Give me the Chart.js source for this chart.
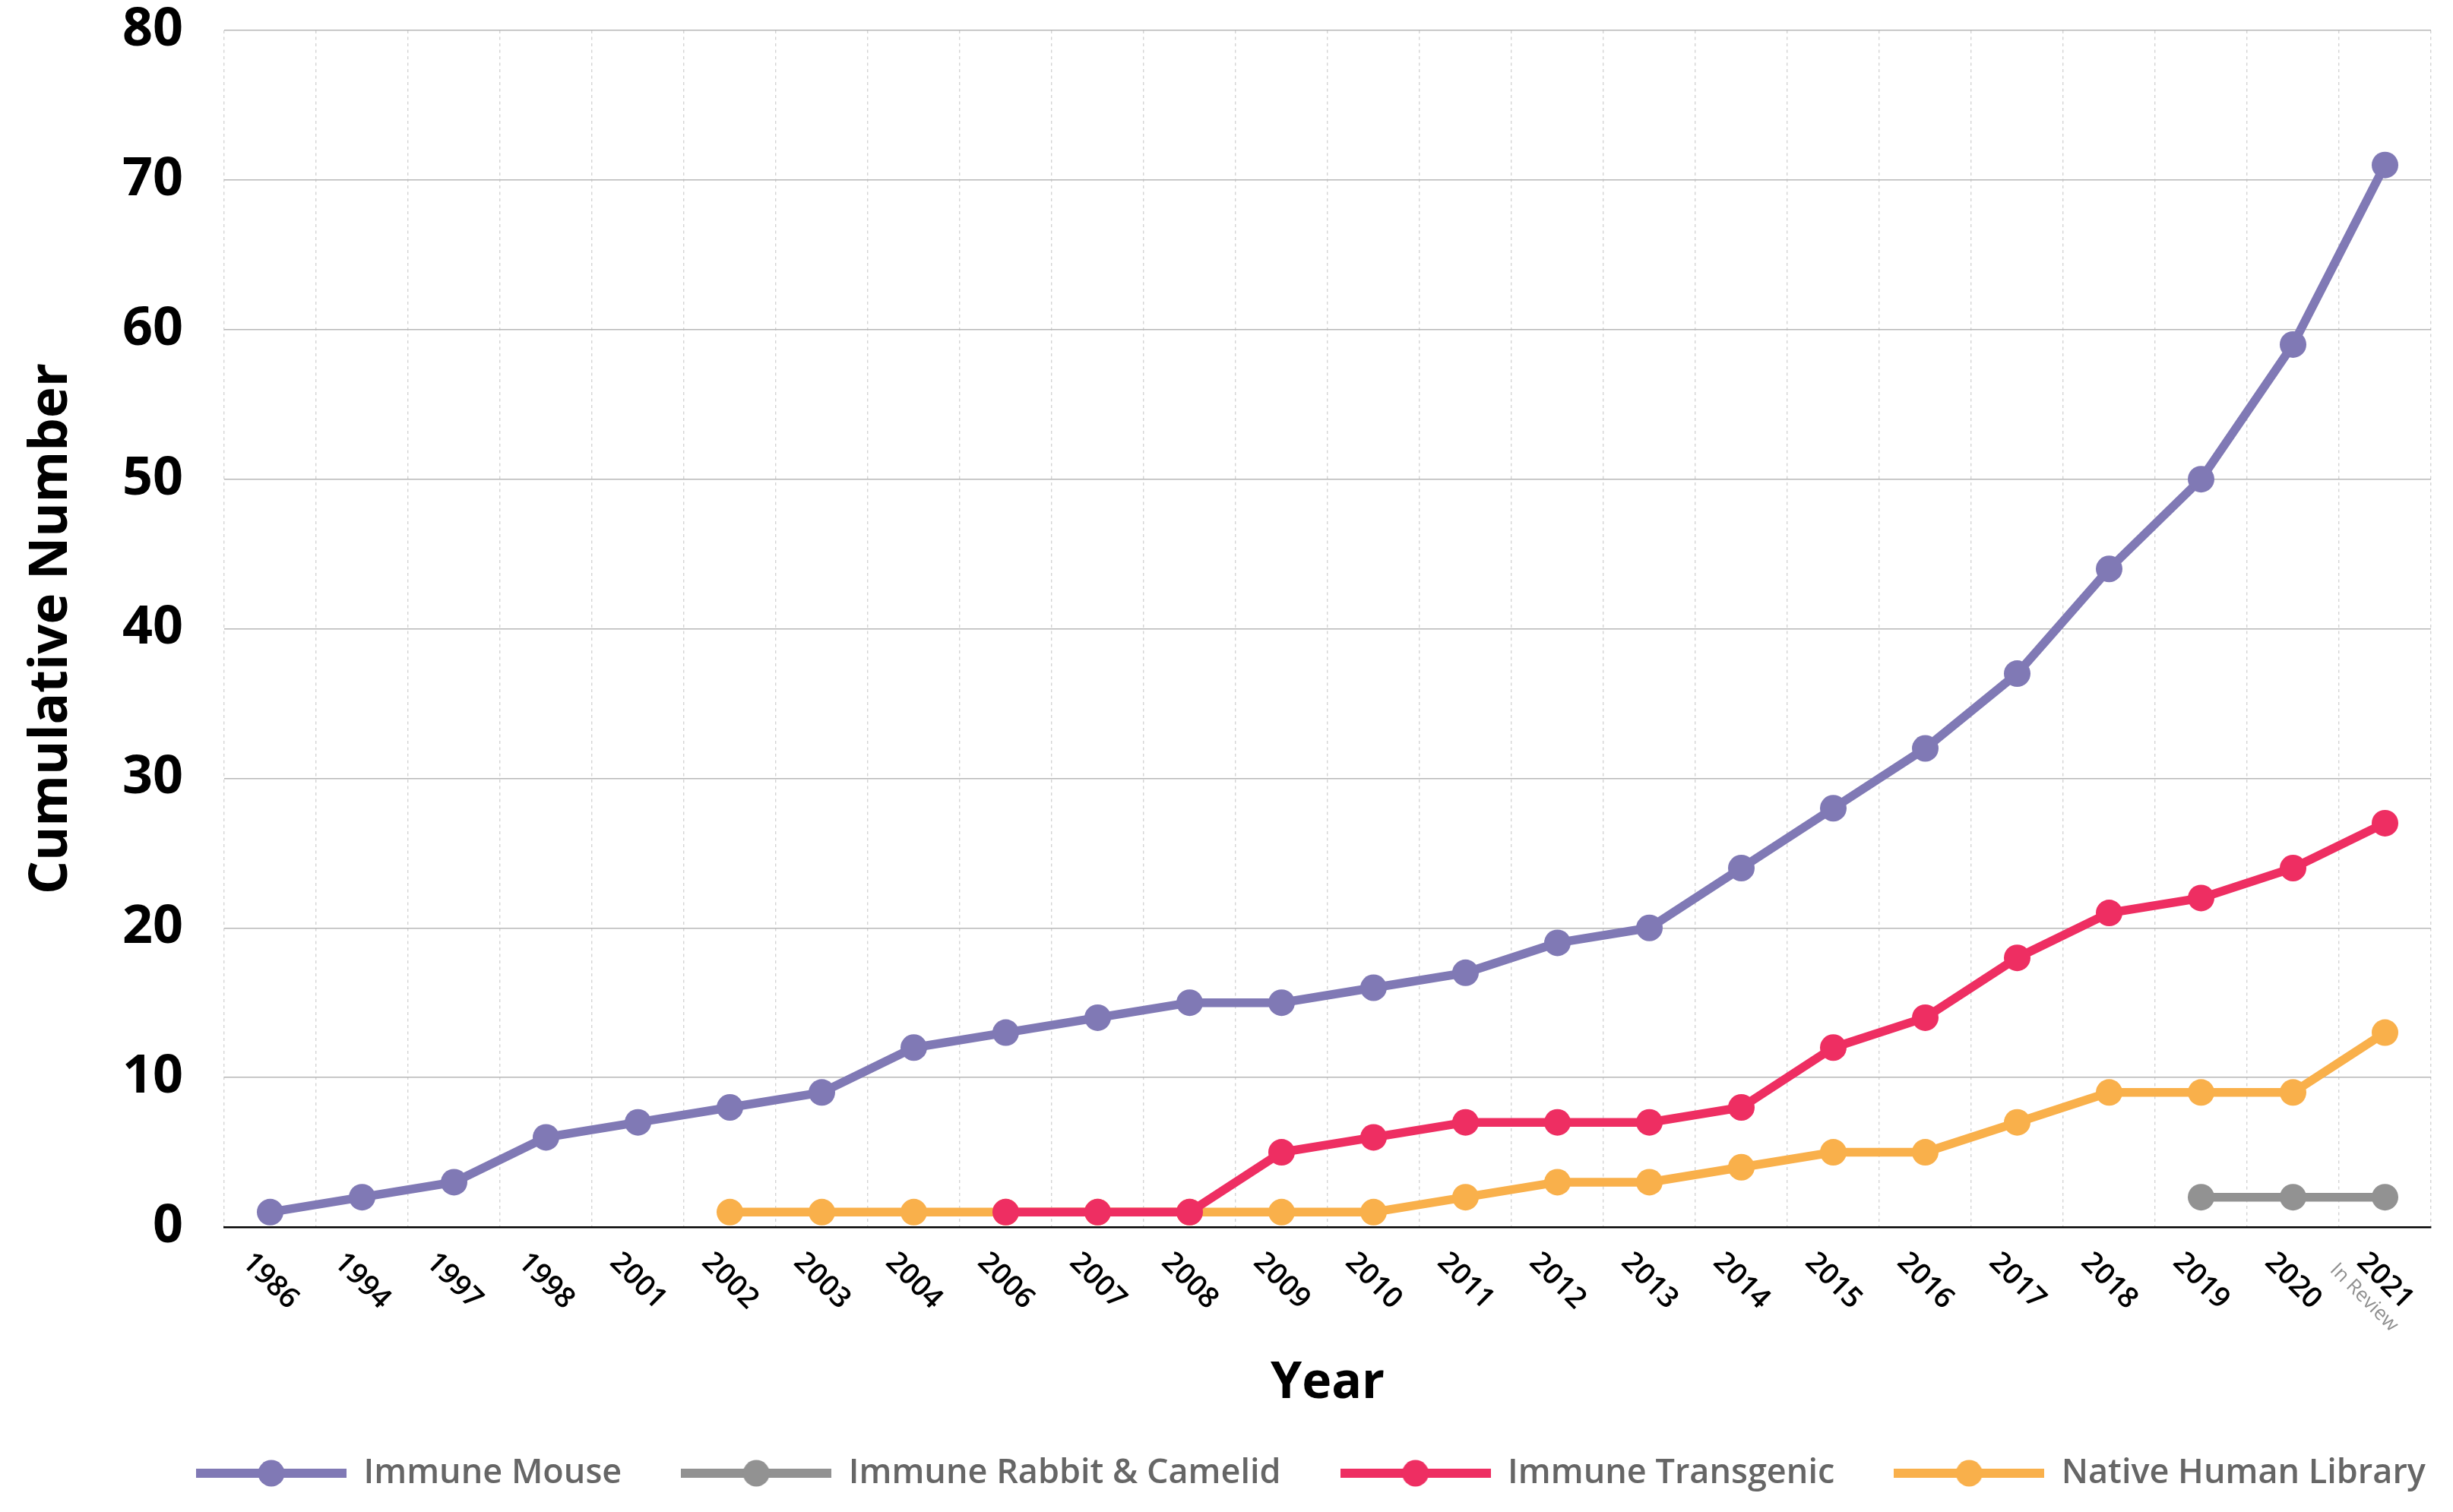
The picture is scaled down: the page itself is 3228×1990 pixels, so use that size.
<!DOCTYPE html>
<html>
<head>
<meta charset="utf-8">
<script src="https://cdn.jsdelivr.net/npm/chart.js@4/dist/chart.umd.min.js"></script>
<style>
html, body { margin: 0; padding: 0; background: #ffffff; }
#wrap { width: 3228px; height: 1990px; }
</style>
</head>
<body>
<div id="wrap"><canvas id="c" width="3228" height="1990"></canvas></div>
<script>
// ---- data ----
const years = ['1986','1994','1997','1998','2001','2002','2003','2004','2006','2007','2008','2009','2010','2011','2012','2013','2014','2015','2016','2017','2018','2019','2020','2021'];
const yearNotes = ['','','','','','','','','','','','','','','','','','','','','','','','In Review'];
const immuneMouse = [1,2,3,6,7,8,9,12,13,14,15,15,16,17,19,20,24,28,32,37,44,50,59,71];
const immuneRabbitCamelid = [null,null,null,null,null,null,null,null,null,null,null,null,null,null,null,null,null,null,null,null,null,2,2,2];
const immuneTransgenic = [null,null,null,null,null,null,null,null,1,1,1,5,6,7,7,7,8,12,14,18,21,22,24,27];
const nativeHumanLibrary = [null,null,null,null,null,1,1,1,1,1,1,1,1,2,3,3,4,5,5,7,9,9,9,13];
const seriesNames = ['Immune Mouse','Immune Rabbit & Camelid','Immune Transgenic','Native Human Library'];
const yMin = 0, yMax = 80, yStep = 10;
const axisTitles = { x: 'Year', y: 'Cumulative Number' };

// ---- styles ----
const FONT = "'Open Sans', sans-serif";
const colors = ['#8079B5', '#929292', '#EE2E62', '#F9B04B'];

function legendIcon(color) {
  const c = document.createElement('canvas');
  c.width = 198; c.height = 36;
  const g = c.getContext('2d');
  g.fillStyle = color;
  g.fillRect(0, 12, 198, 12);
  g.beginPath();
  g.arc(99, 18, 17.5, 0, Math.PI * 2);
  g.fill();
  return c;
}
const icons = colors.map(legendIcon);

function ds(label, data, color) {
  return {
    label, data,
    borderColor: color, backgroundColor: color,
    pointBackgroundColor: color, pointBorderColor: color,
    borderWidth: 11.5, pointRadius: 17.5, pointHoverRadius: 17.5, pointBorderWidth: 0,
    tension: 0, fill: false
  };
}

const xLabelPlugin = {
  id: 'xLabels',
  afterDraw(chart) {
    const s = chart.scales.x;
    const ctx = chart.ctx;
    years.forEach((lab, i) => {
      const x = s.getPixelForValue(i);
      const y = s.top + 71;
      ctx.save();
      ctx.translate(x, y);
      ctx.rotate(Math.PI / 4);
      ctx.textAlign = 'center';
      ctx.textBaseline = 'middle';
      ctx.font = "600 38px " + FONT;
      ctx.fillStyle = '#000000';
      ctx.fillText(lab, 0, 0);
      if (yearNotes[i]) {
        ctx.font = "400 26px " + FONT;
        ctx.fillStyle = '#8f8f8f';
        ctx.fillText(yearNotes[i], -4, 35);
      }
      ctx.restore();
    });
  }
};

const legendPosPlugin = {
  id: 'legendPos',
  afterLayout(chart) {
    const lg = chart.legend;
    if (!lg || !lg.lineWidths) return;
    const p = lg.options.labels.padding;
    const lw = lg.lineWidths[0];
    const start = (lg.left + p + lg.right - lw) / 2;
    const d = 258 - start;
    lg.left += d; lg.right += d;
    const fs = lg.options.labels.font.size;
    const dy = (1939 - fs / 2 - p) - lg.top;
    lg.top += dy; lg.bottom += dy;
  }
};

new Chart(document.getElementById('c'), {
  type: 'line',
  data: {
    labels: years,
    datasets: [
      ds(seriesNames[0], immuneMouse, colors[0]),
      ds(seriesNames[1], immuneRabbitCamelid, colors[1]),
      ds(seriesNames[2], immuneTransgenic, colors[2]),
      ds(seriesNames[3], nativeHumanLibrary, colors[3])
    ]
  },
  options: {
    responsive: false,
    animation: false,
    devicePixelRatio: 1,
    layout: { padding: { left: 0, right: 29, top: 0, bottom: 0 } },
    plugins: {
      tooltip: { enabled: false },
      legend: {
        position: 'bottom',
        labels: {
          usePointStyle: true,
          pointStyleWidth: 198,
          boxHeight: 36,
          padding: 78,
          color: '#666666',
          font: { family: FONT, size: 45, weight: '600' },
          generateLabels(chart) {
            const items = Chart.defaults.plugins.legend.labels.generateLabels(chart);
            items.forEach((it, i) => { it.pointStyle = icons[i]; });
            return items;
          }
        }
      }
    },
    scales: {
      x: {
        type: 'category',
        offset: true,
        grid: { offset: true, color: '#d4d4d4', lineWidth: 1.4, drawTicks: false },
        border: { display: true, color: '#000000', width: 2.5, dash: [4, 4.5] },
        ticks: { display: false },
        title: { display: true, text: axisTitles.x, color: '#000000', font: { family: FONT, size: 66, weight: '700' }, padding: { top: 0, bottom: -4 } },
        afterFit(s) { s.height = 242; }
      },
      y: {
        min: yMin, max: yMax,
        ticks: { stepSize: yStep, padding: 54, color: '#000000', font: { family: FONT, size: 70, weight: '700', lineHeight: 1.15 } },
        grid: { color: '#b8b8b8', lineWidth: 1.4, drawTicks: false },
        border: { display: false },
        title: { display: true, text: axisTitles.y, color: '#000000', font: { family: FONT, size: 69, weight: '700' }, padding: { top: 27, bottom: 0 } },
        afterFit(s) { s.width = 295; s.paddingTop = 40; s.paddingBottom = 40; }
      }
    }
  },
  plugins: [xLabelPlugin, legendPosPlugin]
});
</script>
</body>
</html>
